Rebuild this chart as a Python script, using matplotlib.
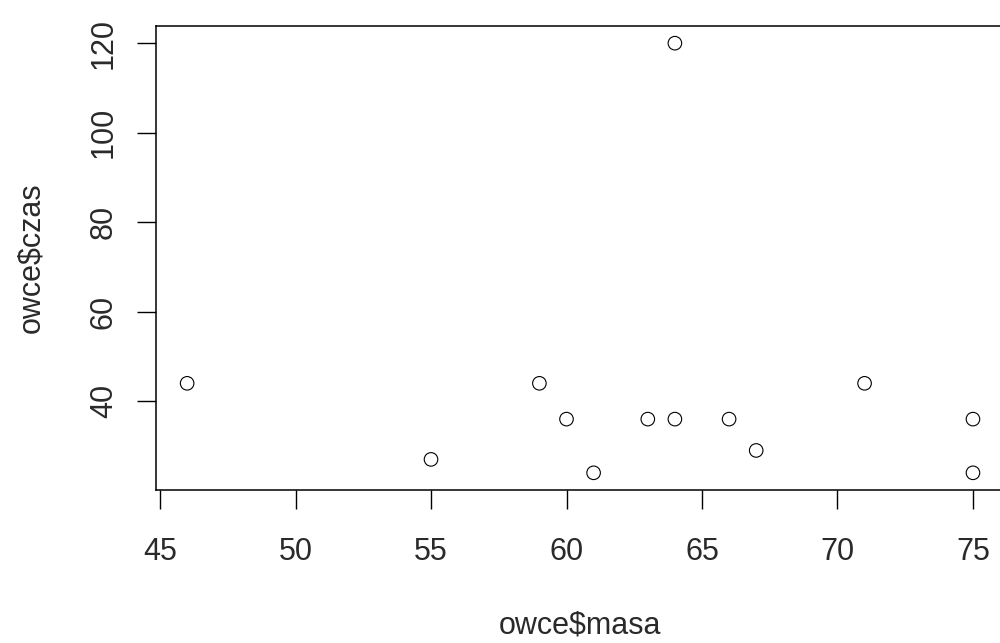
import matplotlib
matplotlib.use("Agg")
import matplotlib.pyplot as plt

masa = [46, 55, 59, 60, 61, 63, 64, 64, 66, 67, 71, 75, 75]
czas = [44, 27, 44, 36, 24, 36, 36, 120, 36, 29, 44, 36, 24]
x_ticks = [45, 50, 55, 60, 65, 70, 75]
y_ticks = [40, 60, 80, 100, 120]

plt.rcParams["font.family"] = ["Liberation Sans", "DejaVu Sans"]

fig = plt.figure(figsize=(10, 6.43), dpi=100)
ax = fig.add_axes([155.7 / 1000, 153 / 643, 848.7 / 1000, 464 / 643])

ax.scatter(masa, czas, s=95, facecolors="none", edgecolors="black", linewidths=0.8, clip_on=False)

# R-style 4% padding around the data range
xr = max(masa) - min(masa)
yr = max(czas) - min(czas)
ax.set_xlim(min(masa) - 0.04 * xr, max(masa) + 0.04 * xr)
ax.set_ylim(min(czas) - 0.04 * yr, max(czas) + 0.04 * yr)

ax.set_xticks(x_ticks)
ax.set_yticks(y_ticks)
ax.set_yticklabels([str(v) for v in y_ticks], rotation=90, va="center")
ax.tick_params(direction="out", length=13.5, width=1, labelsize=22, color="black",
               labelcolor="#2a2a2a")
ax.tick_params(axis="x", pad=20)
ax.tick_params(axis="y", pad=13)

for sp in ax.spines.values():
    sp.set_linewidth(1.1)
    sp.set_color("black")

ax.set_xlabel("owce\\$masa", fontsize=22, labelpad=32, color="#2a2a2a")
ax.set_ylabel("owce\\$czas", fontsize=22, labelpad=31, color="#2a2a2a")

fig.savefig("out.png", dpi=100)
